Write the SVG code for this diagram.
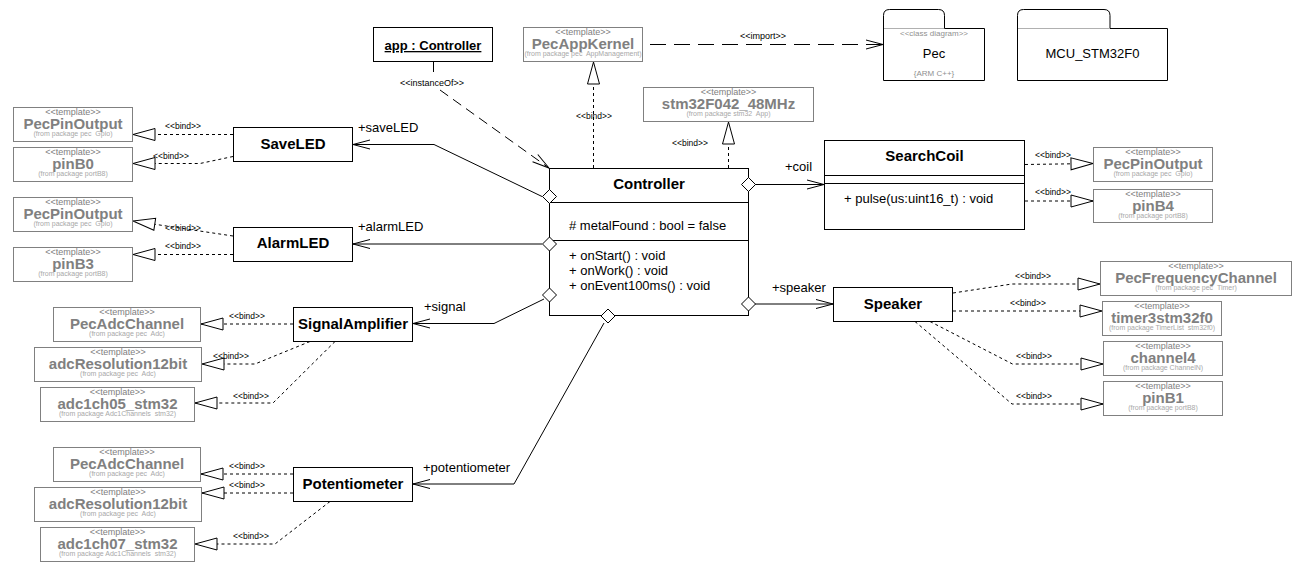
<svg xmlns="http://www.w3.org/2000/svg" width="1309" height="575" viewBox="0 0 1309 575">
<style>
text{font-family:"Liberation Sans",Arial,sans-serif}
.bg{fill:#fff}
.box{fill:#fff;stroke:#000;stroke-width:1}
.tpl{fill:#fff;stroke:#808080;stroke-width:1}
.st{font-size:9px;fill:#808080;text-anchor:middle}
.tn{font-size:15px;font-weight:bold;fill:#808080;text-anchor:middle}
.fp{font-size:7px;fill:#a8a8a8;text-anchor:middle;white-space:pre}
.cn{font-size:15px;font-weight:bold;fill:#000;text-anchor:middle}
.mem{font-size:13px;fill:#000}
.role{font-size:13px;fill:#000}
.bl{font-size:8.5px;fill:#000}
.assoc{fill:none;stroke:#000;stroke-width:1}
.dash{fill:none;stroke:#000;stroke-width:1;stroke-dasharray:3,3}
.ldash{fill:none;stroke:#000;stroke-width:1;stroke-dasharray:10,6}
.idash{fill:none;stroke:#000;stroke-width:1;stroke-dasharray:16,8}
.dia{fill:#fff;stroke:#000;stroke-width:1}
.pkg{fill:#fff;stroke:#000;stroke-width:1}
.tabl{stroke:#b0b0b0;stroke-width:1}
.pg{font-size:8px;fill:#909090;text-anchor:middle}
.pn{font-size:13px;fill:#000;text-anchor:middle}
</style>
<defs>
<marker id="tri" viewBox="0 0 24 14" refX="23" refY="7" markerWidth="24" markerHeight="14" markerUnits="userSpaceOnUse" orient="auto">
<path d="M23,7 L1,1 L1,13 Z" fill="#fff" stroke="#000" stroke-width="1"/>
</marker>
<marker id="open" viewBox="0 0 19 12" refX="18" refY="6" markerWidth="19" markerHeight="12" markerUnits="userSpaceOnUse" orient="auto">
<path d="M1,1.5 L18,6 L1,10.5" fill="none" stroke="#000" stroke-width="1"/>
</marker>
</defs>
<rect class="bg" x="0" y="0" width="1309" height="575"/>

<g id="connectors">
<!-- associations -->
<path class="assoc" d="M542,196.5 L434,144.5 L353,144.5" marker-end="url(#open)"/>
<path class="assoc" d="M542,244 L353,244" marker-end="url(#open)"/>
<path class="assoc" d="M544,299 L494,323.5 L413,323.5" marker-end="url(#open)"/>
<path class="assoc" d="M604,323 L514,484 L413,484" marker-end="url(#open)"/>
<path class="assoc" d="M755,184.5 L824,184.5" marker-end="url(#open)"/>
<path class="assoc" d="M755,304 L833,304" marker-end="url(#open)"/>
<!-- instanceOf and import -->
<path class="ldash" d="M433.5,62 L433.5,77"/>
<path class="ldash" d="M440,90 L549,168" marker-end="url(#open)"/>
<path class="idash" d="M650,44.5 L883,44.5" marker-end="url(#open)"/>
<!-- binds -->
<path class="dash" d="M233,134.5 L133,134.5" marker-end="url(#tri)"/>
<path class="dash" d="M233,156.5 L200,163.5 L133,163.5" marker-end="url(#tri)"/>
<path class="dash" d="M233,236 L133,221" marker-end="url(#tri)"/>
<path class="dash" d="M233,254.5 L133,254.5" marker-end="url(#tri)"/>
<path class="dash" d="M293,324 L201,324" marker-end="url(#tri)"/>
<path class="dash" d="M310,341.5 L255,364 L202,364" marker-end="url(#tri)"/>
<path class="dash" d="M335,341.5 L273,403 L195,403" marker-end="url(#tri)"/>
<path class="dash" d="M293,474 L201,474" marker-end="url(#tri)"/>
<path class="dash" d="M293,493 L202,493" marker-end="url(#tri)"/>
<path class="dash" d="M330,501.5 L275,544 L195,544" marker-end="url(#tri)"/>
<path class="dash" d="M593.5,168 L593.5,62" marker-end="url(#tri)"/>
<path class="dash" d="M728.5,168 L728.5,122" marker-end="url(#tri)"/>
<path class="dash" d="M1025,164.5 L1093,163.5" marker-end="url(#tri)"/>
<path class="dash" d="M1025,201 L1093,201" marker-end="url(#tri)"/>
<path class="dash" d="M953,293 L1012,284 L1100,284" marker-end="url(#tri)"/>
<path class="dash" d="M953,311 L1102,311" marker-end="url(#tri)"/>
<path class="dash" d="M930,321.5 L1012.5,364 L1103,364" marker-end="url(#tri)"/>
<path class="dash" d="M915,321.5 L1012,404 L1103,404" marker-end="url(#tri)"/>
<!-- labels -->
<text class="role" x="358" y="132">+saveLED</text>
<text class="role" x="358" y="231">+alarmLED</text>
<text class="role" x="424" y="311">+signal</text>
<text class="role" x="423" y="472">+potentiometer</text>
<text class="role" x="785" y="171">+coil</text>
<text class="role" x="772" y="292">+speaker</text>
<text class="bl" x="400" y="85.5" style="font-size:9px">&lt;&lt;instanceOf&gt;&gt;</text>
<text class="bl" x="740" y="38.5" style="font-size:9px">&lt;&lt;import&gt;&gt;</text>
<text class="bl" x="165" y="128.5">&lt;&lt;bind&gt;&gt;</text>
<text class="bl" x="153" y="158.5">&lt;&lt;bind&gt;&gt;</text>
<text class="bl" x="165" y="230.5">&lt;&lt;bind&gt;&gt;</text>
<text class="bl" x="165" y="248.5">&lt;&lt;bind&gt;&gt;</text>
<text class="bl" x="229" y="318.5">&lt;&lt;bind&gt;&gt;</text>
<text class="bl" x="213" y="358.5">&lt;&lt;bind&gt;&gt;</text>
<text class="bl" x="233" y="398.5">&lt;&lt;bind&gt;&gt;</text>
<text class="bl" x="229" y="468.5">&lt;&lt;bind&gt;&gt;</text>
<text class="bl" x="229" y="487.5">&lt;&lt;bind&gt;&gt;</text>
<text class="bl" x="233" y="538.5">&lt;&lt;bind&gt;&gt;</text>
<text class="bl" x="576" y="119">&lt;&lt;bind&gt;&gt;</text>
<text class="bl" x="672" y="146">&lt;&lt;bind&gt;&gt;</text>
<text class="bl" x="1035" y="158">&lt;&lt;bind&gt;&gt;</text>
<text class="bl" x="1035" y="195">&lt;&lt;bind&gt;&gt;</text>
<text class="bl" x="1015" y="278.5">&lt;&lt;bind&gt;&gt;</text>
<text class="bl" x="1010" y="305.5">&lt;&lt;bind&gt;&gt;</text>
<text class="bl" x="1016" y="358.5">&lt;&lt;bind&gt;&gt;</text>
<text class="bl" x="1016" y="398.5">&lt;&lt;bind&gt;&gt;</text>
</g>

<g id="Controller">
<rect class="box" x="549.5" y="168.5" width="199" height="147"/>
<line class="assoc" x1="549.5" y1="202.5" x2="748.5" y2="202.5"/>
<line class="assoc" x1="549.5" y1="240.5" x2="748.5" y2="240.5"/>
<text class="cn" x="649" y="188.5">Controller</text>
<text class="mem" x="569" y="229.5"># metalFound : bool = false</text>
<text class="mem" x="569" y="260">+ onStart() : void</text>
<text class="mem" x="569" y="274.5">+ onWork() : void</text>
<text class="mem" x="569" y="289.5">+ onEvent100ms() : void</text>
<path class="dia" d="M549.5,189.5 L556.5,196.5 L549.5,203.5 L542.5,196.5 Z"/>
<path class="dia" d="M549.5,237 L556.5,244 L549.5,251 L542.5,244 Z"/>
<path class="dia" d="M549.5,288 L556.5,295 L549.5,302 L542.5,295 Z"/>
<path class="dia" d="M608,309 L615,316 L608,323 L601,316 Z"/>
<path class="dia" d="M748.5,177.5 L755.5,184.5 L748.5,191.5 L741.5,184.5 Z"/>
<path class="dia" d="M748.5,297 L755.5,304 L748.5,311 L741.5,304 Z"/>
</g>

<g id="appController">
<rect class="box" x="373.5" y="27.5" width="119" height="34"/>
<text class="cn" x="433" y="50" style="font-size:13px;text-decoration:underline">app : Controller</text>
</g>

<g id="SaveLED"><rect class="box" x="233.5" y="127.5" width="119" height="34"/><text class="cn" x="293" y="148.5">SaveLED</text></g>
<g id="AlarmLED"><rect class="box" x="233.5" y="227.5" width="119" height="34"/><text class="cn" x="293" y="248">AlarmLED</text></g>
<g id="SignalAmplifier"><rect class="box" x="293.5" y="307.5" width="119" height="34"/><text class="cn" x="353" y="328.5">SignalAmplifier</text></g>
<g id="Potentiometer"><rect class="box" x="293.5" y="467.5" width="119" height="34"/><text class="cn" x="353" y="488.5">Potentiometer</text></g>
<g id="Speaker"><rect class="box" x="833.5" y="287.5" width="119" height="34"/><text class="cn" x="893" y="308.5">Speaker</text></g>

<g id="SearchCoil">
<rect class="box" x="824.5" y="140.5" width="200" height="89"/>
<line class="assoc" x1="824.5" y1="175.5" x2="1024.5" y2="175.5"/>
<line class="assoc" x1="824.5" y1="183.5" x2="1024.5" y2="183.5"/>
<text class="cn" x="924.5" y="161">SearchCoil</text>
<text class="mem" x="844" y="202.5">+ pulse(us:uint16_t) : void</text>
</g>

<g id="PecPkg">
<path class="pkg" d="M883.5,80.5 V15.5 Q883.5,9.5 889.5,9.5 H938.5 Q944.5,9.5 944.5,15.5 V28.5 H984.5 V80.5 Z"/>
<line class="tabl" x1="884" y1="28.5" x2="944" y2="28.5"/>
<text class="pg" x="934" y="35.5">&lt;&lt;class diagram&gt;&gt;</text>
<text class="pn" x="934" y="58">Pec</text>
<text class="pg" x="934" y="76">{ARM C++}</text>
</g>
<g id="MCUPkg">
<path class="pkg" d="M1017.5,80.5 V15.5 Q1017.5,9.5 1023.5,9.5 H1104 Q1110,9.5 1110,15.5 V28.5 H1167.5 V80.5 Z"/>
<line class="tabl" x1="1018" y1="28.5" x2="1110" y2="28.5"/>
<text class="pn" x="1092.5" y="58">MCU_STM32F0</text>
</g>

<g id="tplPecPinOutput1"><rect class="tpl" x="13.5" y="107.5" width="119" height="34"/><text class="st" x="73" y="115">&lt;&lt;template&gt;&gt;</text><text class="tn" x="73" y="128.5">PecPinOutput</text><text class="fp" x="73" y="135.5">(from package pec  Gpio)</text></g>
<g id="tplPinB0"><rect class="tpl" x="13.5" y="147.5" width="119" height="34"/><text class="st" x="73" y="155">&lt;&lt;template&gt;&gt;</text><text class="tn" x="73" y="168.5">pinB0</text><text class="fp" x="73" y="175.5">(from package portB8)</text></g>
<g id="tplPecPinOutput2"><rect class="tpl" x="13.5" y="197.5" width="119" height="34"/><text class="st" x="73" y="205">&lt;&lt;template&gt;&gt;</text><text class="tn" x="73" y="218.5">PecPinOutput</text><text class="fp" x="73" y="225.5">(from package pec  Gpio)</text></g>
<g id="tplPinB3"><rect class="tpl" x="13.5" y="247.5" width="119" height="34"/><text class="st" x="73" y="255">&lt;&lt;template&gt;&gt;</text><text class="tn" x="73" y="268.5">pinB3</text><text class="fp" x="73" y="275.5">(from package portB8)</text></g>
<g id="tplPecAdcChannel1"><rect class="tpl" x="53.5" y="307.5" width="147" height="34"/><text class="st" x="127" y="315">&lt;&lt;template&gt;&gt;</text><text class="tn" x="127" y="328.5">PecAdcChannel</text><text class="fp" x="127" y="335.5">(from package pec  Adc)</text></g>
<g id="tplAdcRes1"><rect class="tpl" x="34.5" y="347.5" width="167" height="34"/><text class="st" x="118" y="355">&lt;&lt;template&gt;&gt;</text><text class="tn" x="118" y="368.5">adcResolution12bit</text><text class="fp" x="118" y="375.5">(from package pec  Adc)</text></g>
<g id="tplAdc1ch05"><rect class="tpl" x="40.5" y="387.5" width="154" height="34"/><text class="st" x="117.5" y="395">&lt;&lt;template&gt;&gt;</text><text class="tn" x="117.5" y="408.5">adc1ch05_stm32</text><text class="fp" x="117.5" y="415.5">(from package Adc1Channels  stm32)</text></g>
<g id="tplPecAdcChannel2"><rect class="tpl" x="53.5" y="447.5" width="147" height="34"/><text class="st" x="127" y="455">&lt;&lt;template&gt;&gt;</text><text class="tn" x="127" y="468.5">PecAdcChannel</text><text class="fp" x="127" y="475.5">(from package pec  Adc)</text></g>
<g id="tplAdcRes2"><rect class="tpl" x="34.5" y="487.5" width="167" height="34"/><text class="st" x="118" y="495">&lt;&lt;template&gt;&gt;</text><text class="tn" x="118" y="508.5">adcResolution12bit</text><text class="fp" x="118" y="515.5">(from package pec  Adc)</text></g>
<g id="tplAdc1ch07"><rect class="tpl" x="40.5" y="527.5" width="154" height="34"/><text class="st" x="117.5" y="535">&lt;&lt;template&gt;&gt;</text><text class="tn" x="117.5" y="548.5">adc1ch07_stm32</text><text class="fp" x="117.5" y="555.5">(from package Adc1Channels  stm32)</text></g>
<g id="tplPecAppKernel"><rect class="tpl" x="523.5" y="27.5" width="119" height="34"/><text class="st" x="583" y="35">&lt;&lt;template&gt;&gt;</text><text class="tn" x="583" y="48.5">PecAppKernel</text><text class="fp" x="583" y="55.5">(from package pec  AppManagement)</text></g>
<g id="tplStm32F042"><rect class="tpl" x="643.5" y="87.5" width="170" height="34"/><text class="st" x="728.5" y="95">&lt;&lt;template&gt;&gt;</text><text class="tn" x="728.5" y="108.5">stm32F042_48MHz</text><text class="fp" x="728.5" y="115.5">(from package stm32  App)</text></g>
<g id="tplPecPinOutput3"><rect class="tpl" x="1093.5" y="147.5" width="119" height="34"/><text class="st" x="1153" y="155">&lt;&lt;template&gt;&gt;</text><text class="tn" x="1153" y="168.5">PecPinOutput</text><text class="fp" x="1153" y="175.5">(from package pec  Gpio)</text></g>
<g id="tplPinB4"><rect class="tpl" x="1093.5" y="189.5" width="119" height="33"/><text class="st" x="1153" y="197">&lt;&lt;template&gt;&gt;</text><text class="tn" x="1153" y="210.5">pinB4</text><text class="fp" x="1153" y="217.5">(from package portB8)</text></g>
<g id="tplPecFreq"><rect class="tpl" x="1100.5" y="261.5" width="191" height="34"/><text class="st" x="1196" y="269">&lt;&lt;template&gt;&gt;</text><text class="tn" x="1196" y="282.5">PecFrequencyChannel</text><text class="fp" x="1196" y="289.5">(from package pec  Timer)</text></g>
<g id="tplTimer3"><rect class="tpl" x="1102.5" y="301.5" width="119" height="34"/><text class="st" x="1162" y="309">&lt;&lt;template&gt;&gt;</text><text class="tn" x="1162" y="322.5">timer3stm32f0</text><text class="fp" x="1162" y="329.5">(from package TimerList  stm32f0)</text></g>
<g id="tplChannel4"><rect class="tpl" x="1103.5" y="341.5" width="119" height="34"/><text class="st" x="1163" y="349">&lt;&lt;template&gt;&gt;</text><text class="tn" x="1163" y="362.5">channel4</text><text class="fp" x="1163" y="369.5">(from package ChannelN)</text></g>
<g id="tplPinB1"><rect class="tpl" x="1103.5" y="381.5" width="119" height="34"/><text class="st" x="1163" y="389">&lt;&lt;template&gt;&gt;</text><text class="tn" x="1163" y="402.5">pinB1</text><text class="fp" x="1163" y="409.5">(from package portB8)</text></g>
</svg>
